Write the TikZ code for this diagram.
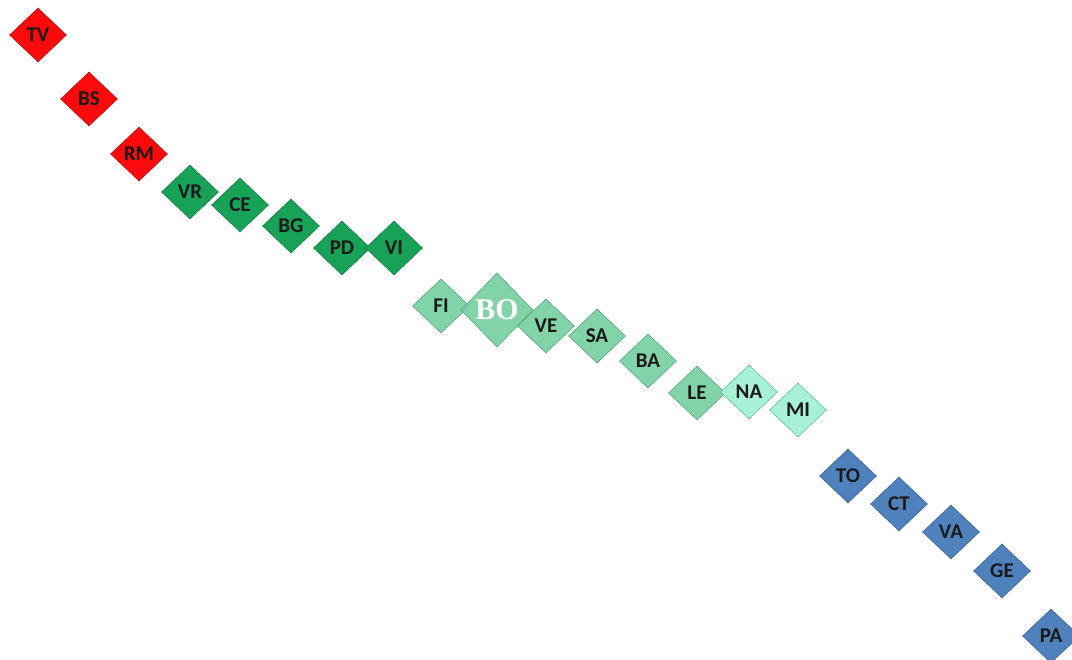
\documentclass[tikz,border=0pt]{standalone}
\usepackage{fontspec}
\setmainfont{Carlito}
\newfontfamily\boserif{Liberation Serif}
\usetikzlibrary{shapes.geometric}
\definecolor{prred}{RGB}{250,10,10}
\definecolor{prredline}{RGB}{190,20,20}
\definecolor{prgreen}{RGB}{24,162,88}
\definecolor{prgreenline}{RGB}{20,130,70}
\definecolor{prmid}{RGB}{118,206,158}
\definecolor{prmidline}{RGB}{80,170,125}
\definecolor{prlight}{RGB}{168,240,214}
\definecolor{prlightline}{RGB}{95,195,160}
\definecolor{prblue}{RGB}{79,129,189}
\definecolor{prblueline}{RGB}{60,100,155}

\begin{document}
\begin{tikzpicture}[x=1pt, y=-1pt,
  dm/.style={diamond, aspect=1.05, minimum width=57pt, minimum height=54pt, inner sep=0pt, line width=0.6pt, font=\fontsize{21}{21}\selectfont\bfseries, text=black!90},
  rd/.style={dm, fill=prred, draw=prredline},
  gd/.style={dm, fill=prgreen, draw=prgreenline},
  md/.style={dm, fill=prmid, draw=prmidline, fill opacity=0.9, text opacity=1},
  ld/.style={dm, fill=prlight, draw=prlightline},
  bd/.style={dm, fill=prblue, draw=prblueline}]
\useasboundingbox (0,0) rectangle (1072,660);
% red group
\node[rd] (tv) at (38,35) {TV};
\node[rd] (bs) at (89,99) {BS};
\node[rd] (rm) at (139,154) {RM};
% dark green group
\node[gd] (vr) at (190,192) {VR};
\node[gd] (ce) at (240,205) {CE};
\node[gd] (bg) at (291,226) {BG};
\node[gd] (pd) at (342,248) {PD};
\node[gd] (vi) at (394,248) {VI};
% middle group
\node[md] (fi) at (441,306) {FI};
\node[md, minimum width=72pt, minimum height=74pt, text=white, font=\fontsize{30}{30}\selectfont\boserif\bfseries] (bo) at (497,310) {BO};
\node[md] (ve) at (546,326) {VE};
\node[md] (sa) at (597,336) {SA};
\node[md] (ba) at (648,361) {BA};
\node[md] (le) at (697,393) {LE};
\node[ld] (na) at (749,392) {NA};
\node[ld] (mi) at (798,410) {MI};
% blue group
\node[bd] (to) at (848,476) {TO};
\node[bd] (ct) at (899,504) {CT};
\node[bd] (va) at (951,532) {VA};
\node[bd] (ge) at (1002,571) {GE};
\node[bd] (pa) at (1051,636) {PA};
\end{tikzpicture}
\end{document}
